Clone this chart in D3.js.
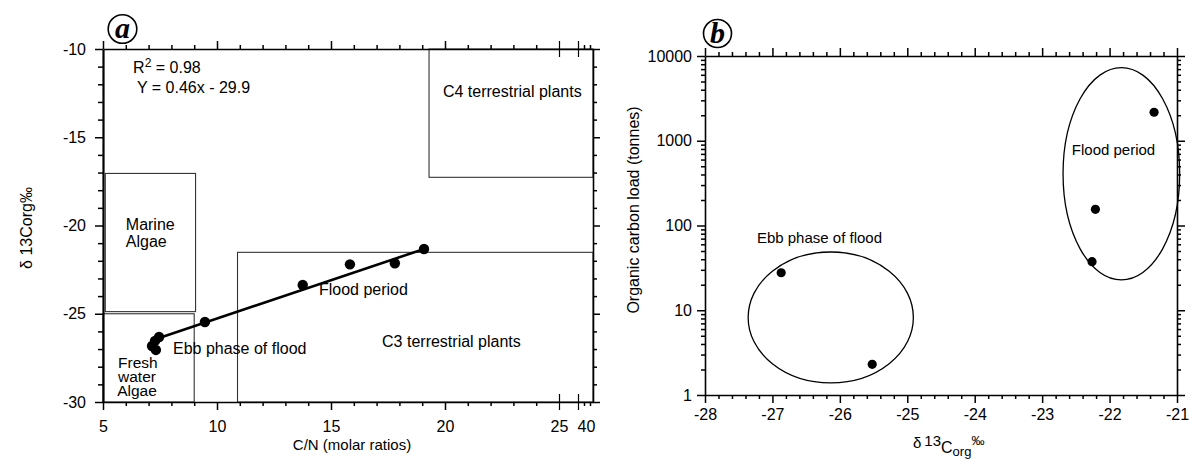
<!DOCTYPE html>
<html><head><meta charset="utf-8">
<script src="https://cdn.jsdelivr.net/npm/d3@7"></script>
<style>
body{margin:0;background:#fff;}
svg text{font-family:"Liberation Sans",Arial,sans-serif;fill:#000;}
</style></head><body>
<svg id="chart" width="1198" height="459"></svg>
<script>
// ---------- Panel a data ----------
const cnRatio = [7.15, 7.28, 7.32, 7.46, 9.47, 13.76, 15.83, 17.8, 19.08];
const d13cA   = [-26.83, -26.54, -27.05, -26.32, -25.47, -23.37, -22.2, -22.14, -21.33];
const fitX = [7.46, 19.08];
const fitY = [-26.37, -21.33];
const boxNames = ["Marine Algae", "Fresh water Algae", "C3 terrestrial plants", "C4 terrestrial plants"];
const boxX0 = [5.1, 5, 10.9, 19.3];
const boxX1 = [9.06, 9.0, 52.5, 52.5];
const boxY0 = [-24.88, -30, -30, -17.27];
const boxY1 = [-17.05, -25.0, -21.52, -10];
const cnMajorTicks = [5, 10, 15, 20];
const cnBreakTicks = [25, 40];
const cnMinorTicks = [6,7,8,9,11,12,13,14,16,17,18,19,21,22,23,24,45,50];
const d13cATicks = [-30, -25, -20, -15, -10];

// ---------- Panel b data ----------
const d13cB = [-26.87, -25.52, -21.34, -22.21, -22.26];
const carbonLoad = [27.7, 2.3, 2170, 155, 37.4];
const groupNames = ["Ebb phase of flood", "Flood period"];
const ellXMin = [-27.36, -22.69];
const ellXMax = [-24.91, -20.96];
const ellYMin = [1.39, 22.8];
const ellYMax = [48.7, 7280];
const bXTicks = [-28, -27, -26, -25, -24, -23, -22, -21];
const bYTicks = [1, 10, 100, 1000, 10000];

const svg = d3.select("#chart");

// ---------- scales ----------
const xa = d3.scaleLinear().domain([5, 25, 40, 52.5]).range([103, 559, 578, 593]);
const ya = d3.scaleLinear().domain([-30, -10]).range([402, 49]);
const xb = d3.scaleLinear().domain([-28, -21]).range([705, 1177]);
const yb = d3.scaleLog().domain([1, 10000]).range([395, 56]);

function styleAxis(g, fs) {
  g.selectAll("path.domain").attr("stroke", "#000").attr("stroke-width", 1.6);
  g.selectAll(".tick line").attr("stroke", "#000").attr("stroke-width", 1.5);
  g.selectAll(".tick text").style("font-size", fs + "px").attr("fill", "#000")
    .style("font-family", '"Liberation Sans",Arial,sans-serif');
  return g;
}
function minorAxis(parent, gen, tr) {
  const g = parent.append("g").attr("transform", tr).call(gen.tickFormat(""));
  g.select("path.domain").remove();
  g.selectAll(".tick line").attr("stroke", "#000").attr("stroke-width", 1.5);
  return g;
}
const fmt = d => String(d);

// ---------- Panel a ----------
const A = svg.append("g");
// boxes
A.selectAll("rect.src").data(boxNames).join("rect")
  .attr("x", (d, i) => xa(boxX0[i]))
  .attr("y", (d, i) => ya(boxY1[i]))
  .attr("width", (d, i) => xa(boxX1[i]) - xa(boxX0[i]))
  .attr("height", (d, i) => ya(boxY0[i]) - ya(boxY1[i]))
  .attr("fill", "none").attr("stroke", "#333").attr("stroke-width", 1.1);

// axes a
styleAxis(A.append("g").attr("transform", "translate(0,402)")
  .call(d3.axisBottom(xa).tickValues(cnMajorTicks).tickSize(8).tickSizeOuter(0).tickPadding(11).tickFormat(fmt)), 16);
minorAxis(A, d3.axisBottom(xa).tickValues(cnMinorTicks).tickSize(4).tickSizeOuter(0), "translate(0,402)");
const brB = A.append("g").attr("transform", "translate(0,402)")
  .call(d3.axisBottom(xa).tickValues(cnBreakTicks).tickSize(8).tickSizeOuter(0).tickPadding(11).tickFormat(fmt));
brB.select("path.domain").remove();
styleAxis(brB, 16);
brB.selectAll(".tick line").attr("y1", -8).attr("stroke-width", 1.2);
brB.selectAll(".tick text").filter(d => d === 40).attr("text-anchor", "start").attr("dx", -1);

styleAxis(A.append("g").attr("transform", "translate(0,49)")
  .call(d3.axisTop(xa).tickValues(cnMajorTicks).tickSize(8).tickSizeOuter(0).tickFormat("")), 16);
minorAxis(A, d3.axisTop(xa).tickValues(cnMinorTicks).tickSize(4).tickSizeOuter(0), "translate(0,49)");
const brT = minorAxis(A, d3.axisTop(xa).tickValues(cnBreakTicks).tickSize(8).tickSizeOuter(0), "translate(0,49)");
brT.selectAll(".tick line").attr("y1", 8).attr("stroke-width", 1.2);

const yaMinor = d3.range(-29, -10).filter(v => v % 5 !== 0);
const la = styleAxis(A.append("g").attr("transform", "translate(103,0)")
  .call(d3.axisLeft(ya).tickValues(d13cATicks).tickSize(8).tickSizeOuter(0).tickPadding(9).tickFormat(fmt)), 16);
la.select("path.domain").attr("stroke-width", 2.2);
minorAxis(A, d3.axisLeft(ya).tickValues(yaMinor).tickSize(5).tickSizeOuter(0), "translate(103,0)");
styleAxis(A.append("g").attr("transform", "translate(593,0)")
  .call(d3.axisRight(ya).tickValues(d13cATicks).tickSize(7).tickSizeOuter(0).tickFormat("")), 16);
minorAxis(A, d3.axisRight(ya).tickValues(yaMinor).tickSize(4).tickSizeOuter(0), "translate(593,0)");

// fit line & points
A.append("line")
  .attr("x1", xa(fitX[0])).attr("y1", ya(fitY[0]))
  .attr("x2", xa(fitX[1])).attr("y2", ya(fitY[1]))
  .attr("stroke", "#000").attr("stroke-width", 2.6);
A.selectAll("circle.pt").data(cnRatio).join("circle")
  .attr("cx", d => xa(d)).attr("cy", (d, i) => ya(d13cA[i])).attr("r", 5.2).attr("fill", "#000");

// annotations a
const annA = (txt, x, y, fs) => A.append("text").attr("x", x).attr("y", y).style("font-size", (fs || 16) + "px").text(txt);
const r2 = A.append("text").attr("x", xa(6.32)).attr("y", ya(-11.37)).style("font-size", "16px");
r2.append("tspan").text("R");
r2.append("tspan").attr("dy", -6).style("font-size", "12px").text("2");
r2.append("tspan").attr("dy", 6).text(" = 0.98");
annA("Y  = 0.46x - 29.9", xa(6.49), ya(-12.49));
annA("C4 terrestrial plants", xa(19.91), ya(-12.72));
annA("Marine", xa(6.0), ya(-20.25));
annA("Algae", xa(6.0), ya(-21.2));
annA("Fresh", xa(5.66), ya(-28.07), 15.5);
annA("water", xa(5.66), ya(-28.87), 15.5);
annA("Algae", xa(5.62), ya(-29.66), 15.5);
annA("Ebb phase of flood", xa(8.07), ya(-27.28));
annA("Flood period", xa(14.47), ya(-23.94));
annA("C3 terrestrial plants", xa(17.24), ya(-26.88));

// axis titles a
A.append("text").attr("x", 352).attr("y", 450).attr("text-anchor", "middle").style("font-size", "15px").text("C/N (molar ratios)");
A.append("text").attr("transform", "translate(32,228) rotate(-90)").attr("text-anchor", "middle").style("font-size", "16px").text("δ 13Corg‰");

// panel label a
A.append("circle").attr("cx", 122.5).attr("cy", 29).attr("r", 14.3).attr("fill", "#fff").attr("stroke", "#000").attr("stroke-width", 1.6);
A.append("text").attr("x", 122.5).attr("y", 38).attr("text-anchor", "middle")
  .style("font-family", '"Liberation Serif","Times New Roman",serif').style("font-weight", "bold").style("font-style", "italic").style("font-size", "30px").text("a");

// ---------- Panel b ----------
const B = svg.append("g");
const bxMinor = d3.range(-28, -21.0001, 0.2).map(v => Math.round(v * 10) / 10).filter(v => !Number.isInteger(v));
const byMinor = [];
[1, 10, 100, 1000].forEach(dec => { for (let k = 2; k <= 9; k++) byMinor.push(dec * k); });

styleAxis(B.append("g").attr("transform", "translate(0,395)")
  .call(d3.axisBottom(xb).tickValues(bXTicks).tickSize(8).tickSizeOuter(0).tickPadding(6).tickFormat(fmt)), 16);
minorAxis(B, d3.axisBottom(xb).tickValues(bxMinor).tickSize(4).tickSizeOuter(0), "translate(0,395)");
styleAxis(B.append("g").attr("transform", "translate(0,56)")
  .call(d3.axisTop(xb).tickValues(bXTicks).tickSize(8).tickSizeOuter(0).tickFormat("")), 16);
minorAxis(B, d3.axisTop(xb).tickValues(bxMinor).tickSize(4).tickSizeOuter(0), "translate(0,56)");
styleAxis(B.append("g").attr("transform", "translate(705,0)")
  .call(d3.axisLeft(yb).tickValues(bYTicks).tickSize(8).tickSizeOuter(0).tickPadding(5).tickFormat(fmt)), 16);
minorAxis(B, d3.axisLeft(yb).tickValues(byMinor).tickSize(4).tickSizeOuter(0), "translate(705,0)");
styleAxis(B.append("g").attr("transform", "translate(1177,0)")
  .call(d3.axisRight(yb).tickValues(bYTicks).tickSize(8).tickSizeOuter(0).tickFormat("")), 16);
minorAxis(B, d3.axisRight(yb).tickValues(byMinor).tickSize(4).tickSizeOuter(0), "translate(1177,0)");

// ellipses
B.selectAll("ellipse.grp").data(groupNames).join("ellipse")
  .attr("cx", (d, i) => (xb(ellXMin[i]) + xb(ellXMax[i])) / 2)
  .attr("cy", (d, i) => (yb(ellYMin[i]) + yb(ellYMax[i])) / 2)
  .attr("rx", (d, i) => (xb(ellXMax[i]) - xb(ellXMin[i])) / 2)
  .attr("ry", (d, i) => (yb(ellYMin[i]) - yb(ellYMax[i])) / 2)
  .attr("fill", "none").attr("stroke", "#000").attr("stroke-width", 1.3);

B.selectAll("circle.pt").data(d13cB).join("circle")
  .attr("cx", d => xb(d)).attr("cy", (d, i) => yb(carbonLoad[i])).attr("r", 4.6).attr("fill", "#000");

B.append("text").attr("x", xb(-27.23)).attr("y", yb(62)).style("font-size", "15px").text(groupNames[0]);
B.append("text").attr("x", xb(-22.56)).attr("y", yb(680)).style("font-size", "15px").text(groupNames[1]);

// axis titles b
B.append("text").attr("transform", "translate(639,210) rotate(-90)").attr("text-anchor", "middle").style("font-size", "16px").text("Organic carbon load (tonnes)");
const xt = B.append("text").attr("x", 913).attr("y", 448).style("font-size", "15px");
xt.append("tspan").text("δ");
xt.append("tspan").attr("dx", 3).attr("dy", -2).style("font-size", "15px").text("13");
xt.append("tspan").attr("dy", 7).style("font-size", "16px").text("C");
xt.append("tspan").attr("dy", 3).style("font-size", "13px").text("org");
xt.append("tspan").attr("dy", -11).style("font-size", "13px").text("‰");

// panel label b
B.append("circle").attr("cx", 717.5).attr("cy", 33.5).attr("r", 14).attr("fill", "#fff").attr("stroke", "#000").attr("stroke-width", 1.6);
B.append("text").attr("x", 717.5).attr("y", 43).attr("text-anchor", "middle")
  .style("font-family", '"Liberation Serif","Times New Roman",serif').style("font-weight", "bold").style("font-style", "italic").style("font-size", "30px").text("b");
</script>
</body></html>
